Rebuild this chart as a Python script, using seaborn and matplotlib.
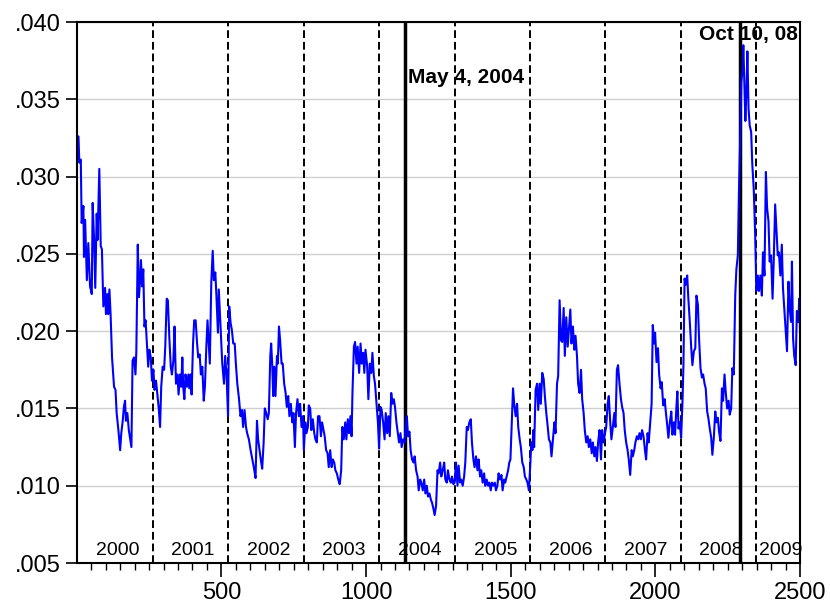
import matplotlib
matplotlib.use("Agg")
import matplotlib.pyplot as plt
from matplotlib.ticker import MultipleLocator, FuncFormatter
import pandas as pd
import seaborn as sns

day_idx = [
    1, 6, 9, 14, 17, 23, 25, 29, 35, 40, 46, 52, 55, 60, 64, 69, 72, 78, 83, 87,
    92, 98, 101, 106, 109, 113, 117, 122, 129, 134, 138, 144, 150, 154, 159, 163,
    167, 170, 175, 180, 184, 189, 193, 198, 203, 206, 211, 215, 219, 222, 226, 230,
    234, 238, 243, 247, 251, 256, 260, 265, 269, 274, 280, 284, 288, 292, 297, 302,
    306, 311, 315, 320, 325, 329, 334, 338, 343, 348, 352, 357, 361, 365, 368, 372,
    376, 381, 386, 389, 394, 397, 402, 406, 411, 416, 420, 425, 429, 434, 439, 443,
    448, 452, 457, 460, 465, 470, 474, 479, 483, 488, 491, 496,
    503, 509, 513, 518, 523, 527, 532, 536, 541, 546, 550, 555, 561, 566, 571, 575,
    580, 585, 589, 595, 601, 607, 612, 618, 623, 627, 632, 636, 641, 646, 650, 655,
    660, 664, 669, 672, 676, 679, 683, 687, 692, 695, 699, 703, 708, 712, 717, 722,
    726, 731, 735, 740, 745, 749, 754, 758, 763, 768, 772, 777, 782, 785, 790, 794,
    799, 802, 807, 811, 816, 821, 825, 830, 834, 839, 844, 848, 853, 857, 862, 867,
    871, 876, 881, 885, 890, 894, 899, 904, 909, 914, 918, 923, 928, 932, 937, 941,
    946, 950, 953, 958, 962, 967, 971, 976, 981, 985, 990, 994,
    998, 1004, 1008, 1013, 1018, 1022, 1027, 1031, 1036, 1041, 1045, 1050, 1054,
    1059, 1064, 1068, 1073, 1077, 1082, 1087, 1091, 1096, 1100, 1105, 1110, 1114,
    1119, 1123, 1128, 1133, 1137, 1141, 1145, 1150, 1154, 1159, 1164, 1168, 1173,
    1178, 1182, 1187, 1191, 1196, 1201, 1205, 1210, 1214, 1219, 1224, 1228, 1233,
    1237, 1242, 1247, 1251, 1256, 1260, 1265, 1270, 1274, 1279, 1283, 1288, 1293,
    1297, 1302, 1306, 1311, 1316, 1320, 1325, 1329, 1334, 1339, 1343, 1348, 1352,
    1357, 1362, 1366, 1371, 1375, 1380, 1385, 1389, 1394, 1398, 1403, 1408, 1412,
    1417, 1422, 1426, 1431, 1435, 1440, 1445, 1449, 1454, 1458, 1463, 1468, 1472,
    1477, 1481, 1486, 1491, 1495,
    1499, 1503, 1508, 1512, 1517, 1522, 1526, 1531, 1535, 1540, 1545, 1549, 1554,
    1558, 1563, 1568, 1571, 1575, 1578, 1581, 1586, 1591, 1595, 1600, 1604, 1609,
    1614, 1618, 1623, 1628, 1632, 1637, 1641, 1646, 1651, 1655, 1660, 1664, 1669,
    1674, 1678, 1683, 1687, 1692, 1697, 1701, 1706, 1710, 1715, 1720, 1724, 1729,
    1733, 1738, 1743, 1747, 1752, 1756, 1761, 1766, 1770, 1775, 1780, 1784, 1789,
    1793, 1798, 1802, 1807, 1812, 1816, 1821, 1826, 1830, 1835, 1839, 1844, 1848,
    1853, 1858, 1862, 1867, 1871, 1876, 1881, 1885, 1890, 1894, 1899, 1904, 1908,
    1913, 1918, 1922, 1927, 1931, 1936, 1941, 1945, 1950, 1954, 1959, 1964, 1968,
    1973, 1977, 1982, 1987, 1991, 1996,
    1999, 2004, 2009, 2013, 2018, 2022, 2027, 2032, 2036, 2041, 2045, 2050, 2055,
    2059, 2064, 2068, 2073, 2076, 2080, 2084, 2089, 2094, 2097, 2101, 2105, 2110,
    2114, 2119, 2124, 2128, 2133, 2138, 2142, 2147, 2151, 2156, 2161, 2165, 2170,
    2174, 2179, 2183, 2188, 2193, 2197, 2202, 2207, 2211, 2216, 2220, 2225, 2230,
    2234, 2239, 2243, 2248, 2253, 2257, 2262, 2266, 2271, 2276, 2280, 2285, 2289,
    2294, 2297, 2301, 2304, 2308, 2311, 2315, 2318, 2322, 2326, 2331, 2335, 2340,
    2345, 2349, 2354, 2358, 2363, 2368, 2372, 2377, 2382, 2386, 2391, 2395, 2400,
    2405, 2409, 2414, 2418, 2423, 2427, 2432, 2437, 2441, 2446, 2450, 2455, 2460,
    2464, 2469, 2472, 2476, 2480, 2485, 2489, 2494, 2497, 2500,
]
vol = [
    .0310, .0326, .0309, .0311, .0270, .0281, .0248, .0272, .0233, .0257, .0229,
    .0224, .0283, .0259, .0228, .0276, .0259, .0305, .0255, .0253, .0216, .0228,
    .0211, .0224, .0211, .0227, .0211, .0183, .0164, .0162, .0147, .0136, .0123,
    .0134, .0142, .0151, .0155, .0142, .0147, .0136, .0131, .0125, .0181, .0183,
    .0172, .0187, .0256, .0222, .0233, .0246, .0229, .0240, .0203, .0207, .0190,
    .0177, .0188, .0183, .0168, .0175, .0162, .0168, .0157, .0149, .0138, .0164,
    .0177, .0175, .0190, .0221, .0220, .0196, .0177, .0172, .0181, .0203, .0166,
    .0172, .0159, .0172, .0164, .0183, .0164, .0156, .0172, .0164, .0172, .0163,
    .0172, .0159, .0192, .0207, .0207, .0192, .0183, .0185, .0172, .0177, .0155,
    .0164, .0190, .0207, .0190, .0179, .0231, .0252, .0233, .0238, .0222, .0199,
    .0227, .0207,
    .0179, .0166, .0184, .0171, .0145, .0216, .0205, .0201, .0192, .0192, .0179,
    .0166, .0156, .0145, .0149, .0138, .0149, .0138, .0134, .0130, .0123, .0117,
    .0112, .0105, .0142, .0130, .0123, .0117, .0111, .0128, .0150, .0147, .0143,
    .0147, .0184, .0192, .0177, .0158, .0177, .0158, .0184, .0179, .0203, .0194,
    .0179, .0179, .0166, .0160, .0151, .0158, .0145, .0153, .0141, .0147, .0125,
    .0147, .0156, .0145, .0153, .0138, .0145, .0123, .0141, .0134, .0138, .0152,
    .0150, .0136, .0143, .0134, .0130, .0128, .0145, .0145, .0132, .0141, .0136,
    .0132, .0123, .0121, .0112, .0123, .0112, .0117, .0115, .0110, .0108, .0104,
    .0101, .0110, .0138, .0130, .0141, .0130, .0143, .0134, .0145, .0132, .0160,
    .0190, .0193, .0179, .0190, .0173, .0192, .0179, .0186, .0173,
    .0188, .0177, .0156, .0179, .0173, .0186, .0171, .0166, .0153, .0141, .0124,
    .0151, .0149, .0141, .0130, .0147, .0134, .0145, .0132, .0160, .0153, .0156,
    .0151, .0141, .0134, .0128, .0134, .0125, .0130, .0128, .0138, .0145, .0132,
    .0135, .0123, .0117, .0115, .0119, .0110, .0106, .0097, .0104, .0102, .0097,
    .0104, .0095, .0100, .0093, .0095, .0091, .0089, .0085, .0081, .0087, .0110,
    .0108, .0115, .0106, .0110, .0115, .0104, .0102, .0110, .0104, .0102, .0106,
    .0101, .0102, .0115, .0100, .0113, .0102, .0104, .0100, .0106, .0115, .0138,
    .0136, .0141, .0143, .0128, .0117, .0112, .0119, .0110, .0117, .0106, .0110,
    .0102, .0108, .0100, .0104, .0100, .0102, .0097, .0102, .0100, .0102, .0097,
    .0100, .0108, .0104, .0107, .0097, .0104, .0102, .0106, .0110, .0115,
    .0117, .0138, .0163, .0153, .0145, .0153, .0138, .0130, .0125, .0115, .0112,
    .0106, .0104, .0102, .0097, .0115, .0128, .0123, .0136, .0125, .0162, .0166,
    .0149, .0166, .0153, .0173, .0169, .0158, .0147, .0138, .0130, .0128, .0119,
    .0130, .0141, .0134, .0166, .0171, .0220, .0194, .0193, .0215, .0184, .0209,
    .0190, .0201, .0214, .0192, .0203, .0188, .0197, .0184, .0166, .0160, .0175,
    .0156, .0147, .0136, .0128, .0132, .0125, .0130, .0121, .0128, .0119, .0125,
    .0116, .0128, .0136, .0117, .0136, .0128, .0134, .0138, .0153, .0158, .0141,
    .0130, .0138, .0147, .0138, .0175, .0178, .0166, .0156, .0151, .0147, .0136,
    .0128, .0123, .0117, .0107, .0123, .0119, .0123, .0128, .0132, .0130, .0134,
    .0130, .0136, .0132, .0123, .0117, .0134, .0128, .0141, .0153, .0204, .0192,
    .0199, .0180, .0189, .0172, .0163, .0167, .0152, .0156, .0148, .0139, .0131,
    .0141, .0148, .0133, .0141, .0133, .0152, .0161, .0137, .0141, .0131, .0156,
    .0178, .0234, .0230, .0236, .0221, .0206, .0189, .0178, .0187, .0189, .0223,
    .0217, .0195, .0176, .0170, .0172, .0166, .0163, .0148, .0144, .0137, .0131,
    .0120, .0131, .0148, .0141, .0144, .0135, .0129, .0163, .0155, .0172, .0161,
    .0150, .0155, .0146, .0150, .0176, .0172, .0223, .0240, .0249, .0292, .0331,
    .0361, .0368, .0385, .0357, .0336, .0357, .0381, .0344, .0333, .0329, .0308,
    .0292, .0262, .0226, .0236, .0226, .0236, .0223, .0251, .0236, .0303, .0280,
    .0271, .0245, .0249, .0221, .0245, .0282, .0267, .0249, .0251, .0236, .0256,
    .0228, .0213, .0202, .0187, .0232, .0215, .0206, .0245, .0195, .0184, .0178,
    .0213, .0206, .0221, .0199,
]

year_names = ["2000", "2001", "2002", "2003", "2004",
              "2005", "2006", "2007", "2008", "2009"]
year_breaks = [262, 523, 784, 1045, 1307, 1567, 1827, 2087, 2348]
event_days = [1133, 2291]
event_names = ["May 4, 2004", "Oct 10, 08"]

sns.set_style("white")
plt.rcParams["font.family"] = ["Liberation Sans", "DejaVu Sans"]
plt.rcParams["text.color"] = "black"
plt.rcParams["xtick.color"] = "black"
plt.rcParams["ytick.color"] = "black"
plt.rcParams["axes.labelcolor"] = "black"

df = pd.DataFrame({"day": day_idx, "vol": vol})

fig = plt.figure(figsize=(8.3, 6.05), dpi=100)
ax = fig.add_axes([0.0928, 0.0694, 0.8711, 0.8942])

ax.yaxis.grid(True, color="#cfcfcf", lw=1.0)
ax.set_axisbelow(True)

for b in year_breaks:
    ax.axvline(b, color="black", lw=1.4, ls=(0, (4, 2)), zorder=1.5)
for d in event_days:
    ax.axvline(d, color="black", lw=2.5, zorder=1.5)

sns.lineplot(data=df, x="day", y="vol", ax=ax, color="#0000ff", lw=1.5,
             zorder=2)

edges = [1] + year_breaks + [2500]
for i, name in enumerate(year_names):
    ax.text((edges[i] + edges[i + 1]) / 2 + 10, 0.0058, name,
            ha="center", va="center", fontsize=14)

ax.text(1146, 0.0364, event_names[0], ha="left", va="center",
        fontsize=15, fontweight="bold")
ax.text(2493, 0.0392, event_names[1], ha="right", va="center",
        fontsize=15, fontweight="bold")

ax.set_xlim(1, 2500)
ax.set_ylim(0.005, 0.040)
ax.xaxis.set_major_locator(MultipleLocator(500))
ax.xaxis.set_minor_locator(MultipleLocator(50))
ax.yaxis.set_major_locator(MultipleLocator(0.005))
ax.yaxis.set_major_formatter(FuncFormatter(lambda v, p: f"{v:.3f}".lstrip("0")))
ax.tick_params(axis="x", which="major", length=10, width=1.2, direction="out",
               labelsize=17, pad=4, bottom=True)
ax.tick_params(axis="x", which="minor", length=5, width=1.0, direction="out",
               bottom=True)
ax.tick_params(axis="y", which="major", length=8, width=1.2, direction="out",
               labelsize=17, left=True)
ax.set_xlabel("")
ax.set_ylabel("")
for s in ax.spines.values():
    s.set_color("black")
    s.set_linewidth(1.5)

fig.savefig("out.png", dpi=100)
